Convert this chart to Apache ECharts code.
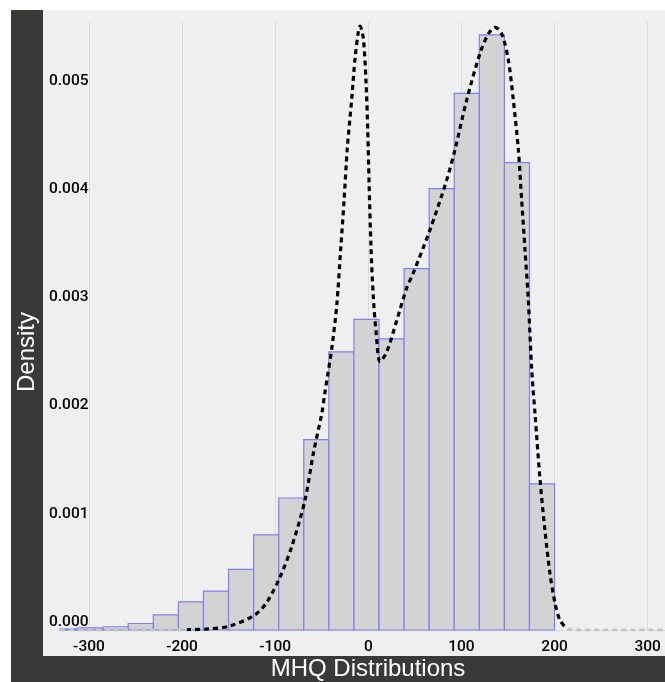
<!DOCTYPE html>
<html>
<head>
<meta charset="utf-8">
<script src="https://cdn.jsdelivr.net/npm/echarts@6/dist/echarts.min.js"></script>
<style>
  html, body { margin: 0; padding: 0; background: #ffffff; }
  #wrap { position: relative; width: 665px; height: 682px; background: #ffffff; overflow: hidden; }
  #darkL { position: absolute; left: 11px; top: 10px; width: 32px; height: 672px; background: #393937; }
  #darkB { position: absolute; left: 11px; top: 656px; width: 654px; height: 26px; background: #393937; }
  #plotBg { position: absolute; left: 43px; top: 10px; width: 622px; height: 646px; background: #efefef; }
  #chart { position: absolute; left: 0; top: 0; width: 665px; height: 682px; }
</style>
</head>
<body>
<div id="wrap">
  <div id="darkL"></div>
  <div id="plotBg"></div>
  <div id="darkB"></div>
  <div id="chart"></div>
</div>
<script>
// ---- data ----
const binEdges = [-338.6, -311.67, -284.74, -257.81, -230.88, -203.95, -177.02, -150.09, -123.16, -96.23,
                  -69.3, -42.37, -15.44, 11.49, 38.42, 65.35, 92.28, 119.21, 146.14, 173.07, 200.0];
const binDensity = [0.00001, 0.00002, 0.00003, 0.00006, 0.00014, 0.00026, 0.00036, 0.00056, 0.00088, 0.00122,
                    0.00176, 0.00257, 0.00287, 0.00269, 0.00334, 0.00408, 0.00496, 0.00550, 0.00432, 0.00135];
const kdeX = [-331, -288, -234, -191.6, -172.1, -148.5, -121.7, -108.8, -94.8, -82.3,
              -68, -59.1, -50, -46.5, -39.3, -33.9, -29.6, -26.1, -22.6, -17.8,
              -14.3, -10.7, -8.9, -5.4, -2.5, -0.6, 0.8, 2.9, 5.4, 8.3,
              12.6, 19.8, 30.5, 41.2, 48.3, 66.3, 84.2, 93.1, 105.7, 120,
              128.9, 136.1, 143.3, 150.3, 155.7, 161.1, 164.7, 168.3, 171.8, 175.5,
              179, 184.4, 189.7, 195.1, 200.5, 205.9, 214.8, 227, 330];
const kdeY = [0, 0, 0, 0.000003, 0.00001, 0.000037, 0.00014, 0.00026, 0.00049, 0.00077,
              0.0012, 0.00163, 0.002, 0.0022, 0.0026, 0.003, 0.00353, 0.00396, 0.00445, 0.00491,
              0.00528, 0.00553, 0.00558, 0.00547, 0.00507, 0.00461, 0.00414, 0.00353, 0.00307, 0.00276,
              0.00248, 0.00257, 0.00286, 0.00316, 0.0033, 0.0037, 0.00416, 0.00444, 0.0049, 0.00533,
              0.00551, 0.00557, 0.00551, 0.00527, 0.0049, 0.00444, 0.00397, 0.00351, 0.00305, 0.0024,
              0.002, 0.00139, 0.00092, 0.00052, 0.00025, 0.00009, 0.00001, 0, 0];
const xTicks = [-300, -200, -100, 0, 100, 200, 300];
const yTicks = [0.001, 0.002, 0.003, 0.004, 0.005];
const xTitle = 'MHQ Distributions';
const yTitle = 'Density';

// ---- build options ----
const histData = binDensity.map((d, i) => [binEdges[i], binEdges[i + 1], d]);
const kdeData = kdeX.map((x, i) => [x, kdeY[i]]);
const tickFont = "Roboto, 'Liberation Sans', sans-serif";
const titleFont = "'Liberation Sans', 'DejaVu Sans', sans-serif";
const gridColor = '#dbdbdb';

const chart = echarts.init(document.getElementById('chart'), null, { renderer: 'canvas' });
chart.setOption({
  backgroundColor: 'transparent',
  animation: false,
  grid: { left: 60, right: 0, top: 22, bottom: 52, outerBoundsMode: 'none', containLabel: false },
  xAxis: {
    type: 'value', min: -331.1, max: 318.6, minInterval: 100, maxInterval: 100,
    axisLine: { show: false }, axisTick: { show: false }, splitLine: { show: false },
    axisLabel: { color: '#000', fontSize: 15.5, fontWeight: 500, fontFamily: tickFont, margin: 9,
                 showMinLabel: false, showMaxLabel: false }
  },
  yAxis: {
    type: 'value', min: 0, max: 0.005619, minInterval: 0.001, maxInterval: 0.001,
    axisLine: { show: false }, axisTick: { show: false }, splitLine: { show: false },
    axisLabel: { color: '#000', fontSize: 15.5, fontWeight: 500, fontFamily: tickFont, margin: 11,
                 align: 'left', verticalAlign: 'bottom', showMaxLabel: false,
                 formatter: v => v.toFixed(3) }
  },
  visualMap: {
    show: false, type: 'piecewise', seriesIndex: 2, dimension: 0,
    pieces: [
      { lt: -195, color: '#c4c4c4' },
      { gte: -195, lte: 213, color: '#000000' },
      { gt: 213, color: '#c4c4c4' }
    ]
  },
  graphic: [
    { type: 'text', x: 368, y: 669, z: 100,
      style: { text: xTitle, fill: '#ffffff', fontSize: 24, fontFamily: titleFont, align: 'center', verticalAlign: 'middle' } },
    { type: 'text', x: 27, y: 352, rotation: Math.PI / 2, z: 100,
      style: { text: yTitle, fill: '#ffffff', fontSize: 24, fontFamily: titleFont, align: 'center', verticalAlign: 'middle' } }
  ],
  series: [
    {
      type: 'line', data: [], z: 1, silent: true,
      markLine: {
        silent: true, symbol: 'none', z: 1, animation: false,
        label: { show: false },
        lineStyle: { color: gridColor, width: 1, type: 'solid' },
        emphasis: { disabled: true },
        data: xTicks.map(v => ({ xAxis: v })).concat(yTicks.map(v => ({ yAxis: v })))
      }
    },
    {
      type: 'custom', z: 2, silent: true,
      data: histData,
      encode: { x: [0, 1], y: 2 },
      renderItem: function (params, api) {
        const p0 = api.coord([api.value(0), api.value(2)]);
        const p1 = api.coord([api.value(1), 0]);
        const cs = params.coordSys;
        const r = echarts.graphic.clipRectByRect(
          { x: p0[0], y: p0[1], width: p1[0] - p0[0], height: p1[1] - p0[1] },
          { x: cs.x, y: cs.y, width: cs.width, height: cs.height });
        if (!r) return null;
        return { type: 'rect', shape: r, style: { fill: '#d3d3d3', stroke: '#7f7ff5', lineWidth: 1.2 } };
      }
    },
    {
      type: 'line', z: 3, data: kdeData, showSymbol: false, smooth: 0.3, silent: true,
      lineStyle: { width: 3.2, type: [5, 4] }
    }
  ]
});
</script>
</body>
</html>
